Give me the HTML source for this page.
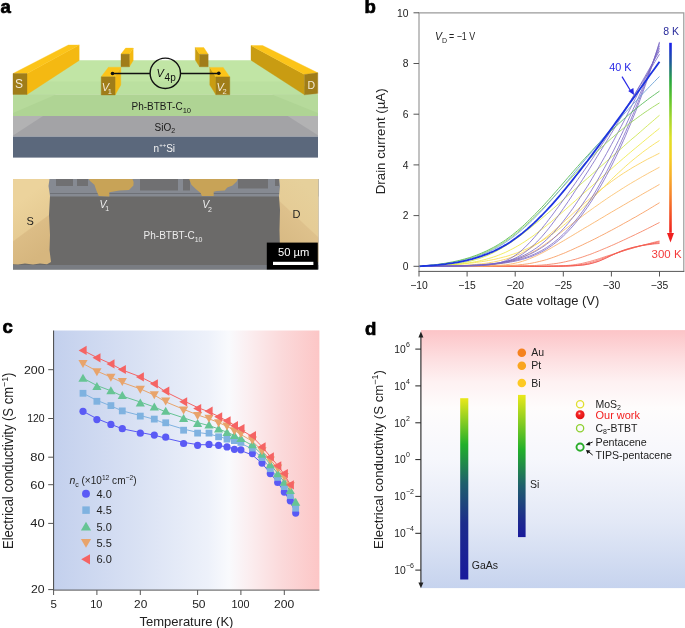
<!DOCTYPE html>
<html><head><meta charset="utf-8"><title>Figure</title><style>
html,body{margin:0;padding:0;background:#fff;width:685px;height:628px;overflow:hidden;}
svg{display:block;font-family:"Liberation Sans",sans-serif;will-change:transform;}
</style></head><body>
<svg width="685" height="628" viewBox="0 0 685 628">
<rect width="685" height="628" fill="#fff"/>
<text x="0.6" y="13.3" font-size="18.6" font-weight="bold" fill="#000" stroke="#000" stroke-width="0.7">a</text>
<polygon points="13.0,94.5 68.3,60.2 262.6,60.2 318.0,94.5" fill="#c1e5a5" />
<polygon points="13.0,94.5 35.6,81.5 295.5,81.5 318.0,94.5" fill="#bbe0a0" />
<rect x="13" y="94.5" width="305" height="21.5" fill="#afd494"/>
<polygon points="13.0,94.5 56.0,94.5 13.0,113.0" fill="#b6da9b" />
<polygon points="272.0,94.5 318.0,94.5 318.0,113.0" fill="#b6da9b" />
<rect x="13" y="116" width="305" height="20.6" fill="#a3a3a6"/>
<polygon points="13.0,116.0 43.0,116.0 13.0,135.4" fill="#b2b2b3" />
<polygon points="287.7,116.0 318.0,116.0 318.0,135.3" fill="#b2b2b3" />
<rect x="13" y="136.6" width="305" height="21" fill="#5b687c"/>
<polygon points="27.0,73.5 79.2,45.0 79.2,60.4 27.0,94.5" fill="#f4b912" stroke="#f4b912" stroke-width="0.35"/>
<polygon points="13.0,73.5 68.3,45.0 79.2,45.0 27.0,73.5" fill="#fcc419" stroke="#fcc419" stroke-width="0.35"/>
<polygon points="13.0,73.5 27.0,73.5 27.0,94.5 13.0,94.5" fill="#a07d19" stroke="#a07d19" stroke-width="0.35"/>
<polygon points="251.0,45.5 304.5,74.5 304.5,94.8 251.0,60.2" fill="#c99c12" stroke="#c99c12" stroke-width="0.35"/>
<polygon points="251.0,45.5 262.6,45.5 317.8,72.8 304.5,74.5" fill="#fcc419" stroke="#fcc419" stroke-width="0.35"/>
<polygon points="304.5,74.5 317.8,72.8 317.8,93.5 304.5,94.8" fill="#a07d19" stroke="#a07d19" stroke-width="0.35"/>
<polygon points="129.4,54.1 133.2,48.1 133.2,60.5 129.4,66.8" fill="#f4b912" stroke="#f4b912" stroke-width="0.35"/>
<polygon points="121.0,54.1 125.6,48.1 133.2,48.1 129.4,54.1" fill="#fcc419" stroke="#fcc419" stroke-width="0.35"/>
<polygon points="121.0,54.1 129.4,54.1 129.4,66.8 121.0,66.8" fill="#a07d19" stroke="#a07d19" stroke-width="0.35"/>
<polygon points="199.6,54.3 195.3,47.6 195.3,60.0 199.6,66.8" fill="#c99c12" stroke="#c99c12" stroke-width="0.35"/>
<polygon points="199.6,54.3 195.3,47.6 203.8,47.6 208.2,54.3" fill="#fcc419" stroke="#fcc419" stroke-width="0.35"/>
<polygon points="199.6,54.3 208.2,54.3 208.2,66.8 199.6,66.8" fill="#a07d19" stroke="#a07d19" stroke-width="0.35"/>
<polygon points="115.1,76.8 120.8,67.2 120.8,85.0 115.1,95.0" fill="#f4b912" stroke="#f4b912" stroke-width="0.35"/>
<polygon points="101.2,76.8 108.4,67.2 120.8,67.2 115.1,76.8" fill="#fcc419" stroke="#fcc419" stroke-width="0.35"/>
<polygon points="101.2,76.8 115.1,76.8 115.1,95.0 101.2,95.0" fill="#a07d19" stroke="#a07d19" stroke-width="0.35"/>
<polygon points="209.8,67.4 215.9,76.9 215.9,94.7 209.8,85.0" fill="#c99c12" stroke="#c99c12" stroke-width="0.35"/>
<polygon points="209.8,67.4 223.2,67.4 229.8,76.9 215.9,76.9" fill="#fcc419" stroke="#fcc419" stroke-width="0.35"/>
<polygon points="215.9,76.9 229.8,76.9 229.8,94.7 215.9,94.7" fill="#a07d19" stroke="#a07d19" stroke-width="0.35"/>
<line x1="112.5" y1="73.5" x2="150" y2="73.5" stroke="#111" stroke-width="1.3"/>
<line x1="180.6" y1="73.5" x2="218.8" y2="73.5" stroke="#111" stroke-width="1.3"/>
<circle cx="165.3" cy="73.3" r="15.2" fill="none" stroke="#111" stroke-width="1.4"/>
<circle cx="112.5" cy="73.5" r="1.8" fill="#111"/>
<circle cx="218.8" cy="73.3" r="1.8" fill="#111"/>
<text x="156.5" y="76.6" font-size="11" font-style="italic" fill="#111">V</text>
<text x="164.6" y="80.8" font-size="10" fill="#111">4p</text>
<text x="15" y="88" font-size="12" fill="#f2ead6">S</text>
<text x="307.5" y="88.5" font-size="10.5" fill="#f2ead6">D</text>
<text x="101.8" y="90.7" font-size="11" font-style="italic" fill="#f2ead6">V</text>
<text x="107.8" y="94" font-size="7.5" fill="#f2ead6">1</text>
<text x="216.6" y="90.7" font-size="11" font-style="italic" fill="#f2ead6">V</text>
<text x="222.6" y="94" font-size="7.5" fill="#f2ead6">2</text>
<text x="131.5" y="110" font-size="10" fill="#1a1a1a">Ph-BTBT-C<tspan font-size="7.6" dy="3.2">10</tspan></text>
<text x="154.5" y="130.5" font-size="10" fill="#1a1a1a">SiO<tspan font-size="7" dy="2.6">2</tspan></text>
<text x="153.6" y="151.8" font-size="10" fill="#f4f4f4">n<tspan font-size="6" dy="-5">++</tspan><tspan dy="5">Si</tspan></text>
<rect x="13" y="179" width="305.4" height="90.5" fill="#6b6a69"/>
<rect x="13" y="179" width="305.4" height="17.5" fill="#868a92"/>
<rect x="56" y="179" width="17" height="7" fill="#707072"/>
<rect x="77" y="179" width="11" height="7" fill="#707072"/>
<rect x="140" y="179" width="38" height="11.5" fill="#707072"/>
<rect x="183" y="179" width="7" height="11.5" fill="#707072"/>
<rect x="238" y="179" width="30" height="9.5" fill="#707072"/>
<rect x="275" y="179" width="4" height="7" fill="#707072"/>
<rect x="50" y="193" width="230" height="1" fill="#5f6066" opacity="0.6"/>
<rect x="13" y="265" width="305.4" height="4.5" fill="#797c82"/>
<defs><linearGradient id="gS" gradientUnits="userSpaceOnUse" x1="13" y1="206" x2="46" y2="251"><stop offset="0" stop-color="#ecd39c"/><stop offset="0.5" stop-color="#e6cb93"/><stop offset="0.52" stop-color="#dcbd86"/><stop offset="1" stop-color="#d6b67e"/></linearGradient><linearGradient id="gD" gradientUnits="userSpaceOnUse" x1="318" y1="197" x2="279" y2="239"><stop offset="0" stop-color="#e6d09b"/><stop offset="0.5" stop-color="#e5cc96"/><stop offset="0.52" stop-color="#dec18c"/><stop offset="1" stop-color="#d8ba84"/></linearGradient></defs>
<polygon points="13.0,179.0 49.5,179.0 48.5,186.0 50.0,196.0 49.0,215.0 50.0,235.0 49.5,250.0 51.0,262.0 47.0,264.3 40.0,263.5 33.0,264.5 25.0,263.5 18.0,264.5 13.0,264.3" fill="url(#gS)" />
<polygon points="279.2,179.0 318.4,179.0 318.4,262.0 282.0,262.0 280.0,250.0 279.5,230.0 280.0,210.0 279.0,196.0 280.0,186.0" fill="url(#gD)" />
<polygon points="88.8,179.0 132.5,179.0 133.6,182.0 133.4,185.6 129.0,190.0 119.4,190.4 109.3,192.2 109.3,196.6 98.8,196.1 96.6,190.9 94.4,184.8 90.0,181.0" fill="#c8a357" />
<polygon points="189.2,179.0 237.8,179.0 236.9,181.3 232.5,185.6 227.3,187.4 224.7,190.4 216.8,190.9 213.7,191.8 213.7,195.9 201.9,195.9 200.6,193.1 195.8,189.1 191.4,184.8" fill="#c8a357" />
<text x="26.6" y="224.5" font-size="11" fill="#1d1d1d">S</text>
<text x="292.5" y="218" font-size="11" fill="#1d1d1d">D</text>
<text x="99.5" y="207.7" font-size="10.5" font-style="italic" fill="#ececec">V</text>
<text x="105.2" y="211" font-size="7" fill="#ececec">1</text>
<text x="202.3" y="208" font-size="10.5" font-style="italic" fill="#ececec">V</text>
<text x="208" y="211.5" font-size="7" fill="#ececec">2</text>
<text x="143.6" y="239" font-size="10" fill="#ececec">Ph-BTBT-C<tspan font-size="7" dy="3">10</tspan></text>
<rect x="266.8" y="242.6" width="51" height="26.9" fill="#000"/>
<rect x="273" y="261.8" width="40.4" height="3.2" fill="#fff"/>
<text x="293.7" y="256.1" font-size="11.2" fill="#fff" text-anchor="middle">50 µm</text>
<text x="364.6" y="13.3" font-size="18.6" font-weight="bold" fill="#000" stroke="#000" stroke-width="0.7">b</text>
<path d="M419.0,266.3 L421.4,266.3 L423.8,266.3 L426.2,266.3 L428.6,266.3 L431.0,266.3 L433.4,266.3 L435.8,266.3 L438.2,266.3 L440.6,266.3 L443.1,266.3 L445.5,266.3 L447.9,266.3 L450.3,266.3 L452.7,266.3 L455.1,266.3 L457.5,266.3 L459.9,266.3 L462.3,266.3 L464.7,266.3 L467.1,266.3 L469.5,266.3 L471.9,266.3 L474.3,266.3 L476.7,266.3 L479.1,266.3 L481.5,266.3 L483.9,266.3 L486.3,266.3 L488.7,266.3 L491.1,266.3 L493.6,266.3 L496.0,266.3 L498.4,266.3 L500.8,266.3 L503.2,266.3 L505.6,266.3 L508.0,266.3 L510.4,266.3 L512.8,266.3 L515.2,266.3 L517.6,266.3 L520.0,266.3 L522.4,266.3 L524.8,266.3 L527.2,266.3 L529.6,266.3 L532.0,266.3 L534.4,266.3 L536.8,266.3 L539.2,266.3 L541.7,266.3 L544.1,266.3 L546.5,266.3 L548.9,266.3 L551.3,266.2 L553.7,266.2 L556.1,266.2 L558.5,266.2 L560.9,266.2 L563.3,266.1 L565.7,266.1 L568.1,266.0 L570.5,265.9 L572.9,265.8 L575.3,265.7 L577.7,265.5 L580.1,265.3 L582.5,265.1 L584.9,264.8 L587.4,264.4 L589.8,263.9 L592.2,263.3 L594.6,262.6 L597.0,261.9 L599.4,261.0 L601.8,260.0 L604.2,258.9 L606.6,257.8 L609.0,256.6 L611.4,255.4 L613.8,254.3 L616.2,253.2 L618.6,252.1 L621.0,251.1 L623.4,250.2 L625.8,249.4 L628.2,248.7 L630.6,248.0 L633.0,247.4 L635.5,246.8 L637.9,246.3 L640.3,245.9 L642.7,245.5 L645.1,245.1 L647.5,244.8 L649.9,244.5 L652.3,244.2 L654.7,243.9 L657.1,243.7 L659.5,243.5" fill="none" stroke="#f04a44" stroke-width="0.7" stroke-linejoin="round"/>
<path d="M419.0,266.3 L421.4,266.3 L423.8,266.3 L426.2,266.3 L428.6,266.3 L431.0,266.3 L433.4,266.3 L435.8,266.3 L438.2,266.3 L440.6,266.3 L443.1,266.3 L445.5,266.3 L447.9,266.3 L450.3,266.3 L452.7,266.3 L455.1,266.3 L457.5,266.3 L459.9,266.3 L462.3,266.3 L464.7,266.3 L467.1,266.3 L469.5,266.3 L471.9,266.3 L474.3,266.3 L476.7,266.3 L479.1,266.3 L481.5,266.3 L483.9,266.3 L486.3,266.3 L488.7,266.3 L491.1,266.3 L493.6,266.3 L496.0,266.3 L498.4,266.3 L500.8,266.3 L503.2,266.3 L505.6,266.3 L508.0,266.3 L510.4,266.3 L512.8,266.3 L515.2,266.3 L517.6,266.3 L520.0,266.3 L522.4,266.3 L524.8,266.3 L527.2,266.3 L529.6,266.3 L532.0,266.3 L534.4,266.3 L536.8,266.3 L539.2,266.3 L541.7,266.3 L544.1,266.3 L546.5,266.3 L548.9,266.3 L551.3,266.2 L553.7,266.2 L556.1,266.2 L558.5,266.2 L560.9,266.1 L563.3,266.1 L565.7,266.0 L568.1,266.0 L570.5,265.9 L572.9,265.8 L575.3,265.6 L577.7,265.5 L580.1,265.2 L582.5,265.0 L584.9,264.6 L587.4,264.2 L589.8,263.7 L592.2,263.1 L594.6,262.4 L597.0,261.6 L599.4,260.8 L601.8,259.8 L604.2,258.8 L606.6,257.7 L609.0,256.6 L611.4,255.5 L613.8,254.4 L616.2,253.4 L618.6,252.4 L621.0,251.4 L623.4,250.5 L625.8,249.7 L628.2,248.9 L630.6,248.2 L633.0,247.5 L635.5,246.9 L637.9,246.4 L640.3,245.8 L642.7,245.3 L645.1,244.9 L647.5,244.5 L649.9,244.1 L652.3,243.7 L654.7,243.4 L657.1,243.0 L659.5,242.7" fill="none" stroke="#f25048" stroke-width="0.7" stroke-linejoin="round"/>
<path d="M419.0,266.3 L421.4,266.3 L423.8,266.3 L426.2,266.3 L428.6,266.3 L431.0,266.3 L433.4,266.3 L435.8,266.3 L438.2,266.3 L440.6,266.3 L443.1,266.3 L445.5,266.3 L447.9,266.3 L450.3,266.3 L452.7,266.3 L455.1,266.3 L457.5,266.3 L459.9,266.3 L462.3,266.3 L464.7,266.3 L467.1,266.3 L469.5,266.3 L471.9,266.3 L474.3,266.3 L476.7,266.3 L479.1,266.3 L481.5,266.3 L483.9,266.3 L486.3,266.3 L488.7,266.3 L491.1,266.3 L493.6,266.3 L496.0,266.3 L498.4,266.3 L500.8,266.3 L503.2,266.3 L505.6,266.3 L508.0,266.3 L510.4,266.3 L512.8,266.3 L515.2,266.3 L517.6,266.3 L520.0,266.3 L522.4,266.3 L524.8,266.3 L527.2,266.3 L529.6,266.3 L532.0,266.3 L534.4,266.3 L536.8,266.3 L539.2,266.3 L541.7,266.3 L544.1,266.3 L546.5,266.2 L548.9,266.2 L551.3,266.2 L553.7,266.2 L556.1,266.1 L558.5,266.1 L560.9,266.0 L563.3,266.0 L565.7,265.9 L568.1,265.8 L570.5,265.6 L572.9,265.5 L575.3,265.2 L577.7,265.0 L580.1,264.7 L582.5,264.3 L584.9,263.8 L587.4,263.3 L589.8,262.7 L592.2,262.0 L594.6,261.3 L597.0,260.5 L599.4,259.6 L601.8,258.8 L604.2,257.8 L606.6,256.9 L609.0,256.0 L611.4,255.1 L613.8,254.2 L616.2,253.3 L618.6,252.5 L621.0,251.6 L623.4,250.8 L625.8,250.0 L628.2,249.3 L630.6,248.6 L633.0,247.9 L635.5,247.2 L637.9,246.6 L640.3,245.9 L642.7,245.3 L645.1,244.8 L647.5,244.2 L649.9,243.7 L652.3,243.2 L654.7,242.7 L657.1,242.2 L659.5,241.7" fill="none" stroke="#f3584c" stroke-width="0.7" stroke-linejoin="round"/>
<path d="M419.0,266.3 L421.4,266.3 L423.8,266.3 L426.2,266.3 L428.6,266.3 L431.0,266.3 L433.4,266.3 L435.8,266.3 L438.2,266.3 L440.6,266.3 L443.1,266.3 L445.5,266.3 L447.9,266.3 L450.3,266.3 L452.7,266.3 L455.1,266.3 L457.5,266.3 L459.9,266.3 L462.3,266.3 L464.7,266.3 L467.1,266.3 L469.5,266.3 L471.9,266.3 L474.3,266.3 L476.7,266.3 L479.1,266.3 L481.5,266.3 L483.9,266.3 L486.3,266.3 L488.7,266.3 L491.1,266.3 L493.6,266.3 L496.0,266.3 L498.4,266.3 L500.8,266.3 L503.2,266.3 L505.6,266.3 L508.0,266.3 L510.4,266.3 L512.8,266.3 L515.2,266.3 L517.6,266.3 L520.0,266.3 L522.4,266.3 L524.8,266.3 L527.2,266.3 L529.6,266.3 L532.0,266.3 L534.4,266.3 L536.8,266.3 L539.2,266.2 L541.7,266.2 L544.1,266.2 L546.5,266.2 L548.9,266.2 L551.3,266.1 L553.7,266.1 L556.1,266.0 L558.5,265.9 L560.9,265.8 L563.3,265.7 L565.7,265.6 L568.1,265.4 L570.5,265.2 L572.9,264.9 L575.3,264.6 L577.7,264.2 L580.1,263.8 L582.5,263.3 L584.9,262.7 L587.4,262.1 L589.8,261.5 L592.2,260.8 L594.6,260.1 L597.0,259.4 L599.4,258.6 L601.8,257.8 L604.2,257.0 L606.6,256.2 L609.0,255.5 L611.4,254.7 L613.8,253.9 L616.2,253.1 L618.6,252.4 L621.0,251.6 L623.4,250.9 L625.8,250.1 L628.2,249.4 L630.6,248.7 L633.0,248.0 L635.5,247.3 L637.9,246.6 L640.3,245.9 L642.7,245.3 L645.1,244.6 L647.5,244.0 L649.9,243.4 L652.3,242.7 L654.7,242.1 L657.1,241.5 L659.5,241.0" fill="none" stroke="#f46250" stroke-width="0.7" stroke-linejoin="round"/>
<path d="M419.0,266.3 L421.4,266.3 L423.8,266.3 L426.2,266.3 L428.6,266.3 L431.0,266.3 L433.4,266.3 L435.8,266.3 L438.2,266.3 L440.6,266.3 L443.1,266.3 L445.5,266.3 L447.9,266.3 L450.3,266.3 L452.7,266.3 L455.1,266.3 L457.5,266.3 L459.9,266.3 L462.3,266.3 L464.7,266.3 L467.1,266.3 L469.5,266.3 L471.9,266.3 L474.3,266.3 L476.7,266.3 L479.1,266.3 L481.5,266.3 L483.9,266.3 L486.3,266.3 L488.7,266.3 L491.1,266.3 L493.6,266.2 L496.0,266.2 L498.4,266.2 L500.8,266.2 L503.2,266.2 L505.6,266.2 L508.0,266.2 L510.4,266.1 L512.8,266.1 L515.2,266.1 L517.6,266.0 L520.0,266.0 L522.4,265.9 L524.8,265.9 L527.2,265.8 L529.6,265.7 L532.0,265.6 L534.4,265.5 L536.8,265.4 L539.2,265.2 L541.7,265.1 L544.1,264.9 L546.5,264.7 L548.9,264.4 L551.3,264.1 L553.7,263.8 L556.1,263.5 L558.5,263.1 L560.9,262.7 L563.3,262.2 L565.7,261.7 L568.1,261.1 L570.5,260.6 L572.9,259.9 L575.3,259.3 L577.7,258.5 L580.1,257.8 L582.5,257.0 L584.9,256.2 L587.4,255.3 L589.8,254.5 L592.2,253.6 L594.6,252.6 L597.0,251.7 L599.4,250.7 L601.8,249.7 L604.2,248.7 L606.6,247.7 L609.0,246.7 L611.4,245.6 L613.8,244.6 L616.2,243.5 L618.6,242.4 L621.0,241.3 L623.4,240.2 L625.8,239.1 L628.2,237.9 L630.6,236.8 L633.0,235.7 L635.5,234.5 L637.9,233.3 L640.3,232.2 L642.7,231.0 L645.1,229.8 L647.5,228.6 L649.9,227.4 L652.3,226.2 L654.7,224.9 L657.1,223.7 L659.5,222.5" fill="none" stroke="#f68060" stroke-width="0.85" stroke-linejoin="round"/>
<path d="M419.0,266.3 L421.4,266.3 L423.8,266.3 L426.2,266.3 L428.6,266.3 L431.0,266.3 L433.4,266.3 L435.8,266.3 L438.2,266.3 L440.6,266.3 L443.1,266.3 L445.5,266.3 L447.9,266.3 L450.3,266.3 L452.7,266.3 L455.1,266.3 L457.5,266.3 L459.9,266.3 L462.3,266.3 L464.7,266.3 L467.1,266.3 L469.5,266.3 L471.9,266.2 L474.3,266.2 L476.7,266.2 L479.1,266.2 L481.5,266.2 L483.9,266.2 L486.3,266.2 L488.7,266.1 L491.1,266.1 L493.6,266.0 L496.0,266.0 L498.4,265.9 L500.8,265.9 L503.2,265.8 L505.6,265.7 L508.0,265.6 L510.4,265.5 L512.8,265.3 L515.2,265.2 L517.6,265.0 L520.0,264.7 L522.4,264.5 L524.8,264.2 L527.2,263.9 L529.6,263.5 L532.0,263.1 L534.4,262.6 L536.8,262.1 L539.2,261.5 L541.7,260.9 L544.1,260.3 L546.5,259.6 L548.9,258.8 L551.3,258.0 L553.7,257.2 L556.1,256.3 L558.5,255.4 L560.9,254.4 L563.3,253.5 L565.7,252.5 L568.1,251.4 L570.5,250.4 L572.9,249.3 L575.3,248.2 L577.7,247.1 L580.1,246.0 L582.5,244.9 L584.9,243.7 L587.4,242.5 L589.8,241.4 L592.2,240.2 L594.6,239.0 L597.0,237.8 L599.4,236.5 L601.8,235.3 L604.2,234.1 L606.6,232.8 L609.0,231.5 L611.4,230.3 L613.8,229.0 L616.2,227.7 L618.6,226.4 L621.0,225.1 L623.4,223.7 L625.8,222.4 L628.2,221.1 L630.6,219.7 L633.0,218.3 L635.5,217.0 L637.9,215.6 L640.3,214.2 L642.7,212.8 L645.1,211.4 L647.5,210.0 L649.9,208.5 L652.3,207.1 L654.7,205.6 L657.1,204.2 L659.5,202.7" fill="none" stroke="#f89a5c" stroke-width="0.85" stroke-linejoin="round"/>
<path d="M419.0,266.3 L421.4,266.3 L423.8,266.3 L426.2,266.3 L428.6,266.3 L431.0,266.3 L433.4,266.3 L435.8,266.3 L438.2,266.3 L440.6,266.3 L443.1,266.3 L445.5,266.3 L447.9,266.3 L450.3,266.3 L452.7,266.3 L455.1,266.3 L457.5,266.3 L459.9,266.3 L462.3,266.3 L464.7,266.2 L467.1,266.2 L469.5,266.2 L471.9,266.2 L474.3,266.2 L476.7,266.2 L479.1,266.1 L481.5,266.1 L483.9,266.0 L486.3,266.0 L488.7,265.9 L491.1,265.8 L493.6,265.7 L496.0,265.6 L498.4,265.4 L500.8,265.2 L503.2,265.0 L505.6,264.8 L508.0,264.5 L510.4,264.1 L512.8,263.7 L515.2,263.2 L517.6,262.6 L520.0,262.0 L522.4,261.3 L524.8,260.5 L527.2,259.7 L529.6,258.7 L532.0,257.7 L534.4,256.7 L536.8,255.6 L539.2,254.4 L541.7,253.2 L544.1,251.9 L546.5,250.6 L548.9,249.3 L551.3,247.9 L553.7,246.5 L556.1,245.1 L558.5,243.7 L560.9,242.3 L563.3,240.9 L565.7,239.5 L568.1,238.0 L570.5,236.6 L572.9,235.2 L575.3,233.7 L577.7,232.3 L580.1,230.8 L582.5,229.4 L584.9,227.9 L587.4,226.5 L589.8,225.1 L592.2,223.6 L594.6,222.2 L597.0,220.8 L599.4,219.3 L601.8,217.9 L604.2,216.5 L606.6,215.0 L609.0,213.6 L611.4,212.2 L613.8,210.8 L616.2,209.4 L618.6,208.0 L621.0,206.6 L623.4,205.2 L625.8,203.8 L628.2,202.4 L630.6,201.0 L633.0,199.6 L635.5,198.2 L637.9,196.8 L640.3,195.4 L642.7,194.0 L645.1,192.6 L647.5,191.3 L649.9,189.9 L652.3,188.5 L654.7,187.2 L657.1,185.8 L659.5,184.4" fill="none" stroke="#fab064" stroke-width="0.85" stroke-linejoin="round"/>
<path d="M419.0,266.3 L421.4,266.3 L423.8,266.3 L426.2,266.3 L428.6,266.3 L431.0,266.3 L433.4,266.3 L435.8,266.3 L438.2,266.3 L440.6,266.2 L443.1,266.2 L445.5,266.2 L447.9,266.2 L450.3,266.2 L452.7,266.2 L455.1,266.1 L457.5,266.1 L459.9,266.1 L462.3,266.0 L464.7,266.0 L467.1,265.9 L469.5,265.9 L471.9,265.8 L474.3,265.7 L476.7,265.6 L479.1,265.5 L481.5,265.4 L483.9,265.3 L486.3,265.1 L488.7,264.9 L491.1,264.7 L493.6,264.4 L496.0,264.2 L498.4,263.8 L500.8,263.5 L503.2,263.0 L505.6,262.6 L508.0,262.0 L510.4,261.4 L512.8,260.8 L515.2,260.0 L517.6,259.2 L520.0,258.3 L522.4,257.3 L524.8,256.2 L527.2,255.1 L529.6,253.8 L532.0,252.5 L534.4,251.1 L536.8,249.7 L539.2,248.2 L541.7,246.6 L544.1,244.9 L546.5,243.2 L548.9,241.5 L551.3,239.7 L553.7,238.0 L556.1,236.1 L558.5,234.3 L560.9,232.5 L563.3,230.6 L565.7,228.8 L568.1,226.9 L570.5,225.1 L572.9,223.2 L575.3,221.4 L577.7,219.6 L580.1,217.8 L582.5,216.0 L584.9,214.2 L587.4,212.4 L589.8,210.6 L592.2,208.9 L594.6,207.2 L597.0,205.5 L599.4,203.8 L601.8,202.1 L604.2,200.5 L606.6,198.8 L609.0,197.2 L611.4,195.6 L613.8,194.1 L616.2,192.5 L618.6,191.0 L621.0,189.4 L623.4,187.9 L625.8,186.4 L628.2,184.9 L630.6,183.5 L633.0,182.0 L635.5,180.6 L637.9,179.2 L640.3,177.8 L642.7,176.4 L645.1,175.1 L647.5,173.7 L649.9,172.4 L652.3,171.1 L654.7,169.8 L657.1,168.5 L659.5,167.2" fill="none" stroke="#fbc06a" stroke-width="0.85" stroke-linejoin="round"/>
<path d="M419.0,266.3 L421.4,266.3 L423.8,266.3 L426.2,266.2 L428.6,266.2 L431.0,266.2 L433.4,266.1 L435.8,266.1 L438.2,266.1 L440.6,266.0 L443.1,266.0 L445.5,265.9 L447.9,265.9 L450.3,265.8 L452.7,265.7 L455.1,265.6 L457.5,265.5 L459.9,265.4 L462.3,265.3 L464.7,265.2 L467.1,265.0 L469.5,264.9 L471.9,264.7 L474.3,264.5 L476.7,264.3 L479.1,264.0 L481.5,263.8 L483.9,263.5 L486.3,263.2 L488.7,262.8 L491.1,262.4 L493.6,262.0 L496.0,261.5 L498.4,261.0 L500.8,260.4 L503.2,259.8 L505.6,259.2 L508.0,258.4 L510.4,257.6 L512.8,256.8 L515.2,255.9 L517.6,254.9 L520.0,253.8 L522.4,252.6 L524.8,251.4 L527.2,250.1 L529.6,248.7 L532.0,247.3 L534.4,245.7 L536.8,244.1 L539.2,242.4 L541.7,240.7 L544.1,238.8 L546.5,236.9 L548.9,235.0 L551.3,233.0 L553.7,230.9 L556.1,228.8 L558.5,226.7 L560.9,224.6 L563.3,222.4 L565.7,220.2 L568.1,218.0 L570.5,215.8 L572.9,213.6 L575.3,211.4 L577.7,209.3 L580.1,207.1 L582.5,205.0 L584.9,202.9 L587.4,200.8 L589.8,198.7 L592.2,196.7 L594.6,194.7 L597.0,192.7 L599.4,190.8 L601.8,188.8 L604.2,187.0 L606.6,185.2 L609.0,183.4 L611.4,181.6 L613.8,179.9 L616.2,178.2 L618.6,176.5 L621.0,174.9 L623.4,173.3 L625.8,171.8 L628.2,170.3 L630.6,168.8 L633.0,167.3 L635.5,165.9 L637.9,164.5 L640.3,163.2 L642.7,161.8 L645.1,160.5 L647.5,159.2 L649.9,158.0 L652.3,156.8 L654.7,155.6 L657.1,154.4 L659.5,153.2" fill="none" stroke="#fbd05c" stroke-width="0.85" stroke-linejoin="round"/>
<path d="M419.0,266.3 L421.4,266.2 L423.8,266.2 L426.2,266.1 L428.6,266.0 L431.0,265.9 L433.4,265.8 L435.8,265.7 L438.2,265.6 L440.6,265.5 L443.1,265.3 L445.5,265.2 L447.9,265.1 L450.3,264.9 L452.7,264.8 L455.1,264.6 L457.5,264.4 L459.9,264.2 L462.3,264.0 L464.7,263.7 L467.1,263.5 L469.5,263.2 L471.9,263.0 L474.3,262.7 L476.7,262.4 L479.1,262.0 L481.5,261.7 L483.9,261.3 L486.3,260.9 L488.7,260.4 L491.1,260.0 L493.6,259.5 L496.0,259.0 L498.4,258.4 L500.8,257.8 L503.2,257.2 L505.6,256.6 L508.0,255.9 L510.4,255.1 L512.8,254.3 L515.2,253.5 L517.6,252.6 L520.0,251.7 L522.4,250.7 L524.8,249.7 L527.2,248.7 L529.6,247.5 L532.0,246.3 L534.4,245.1 L536.8,243.8 L539.2,242.4 L541.7,241.0 L544.1,239.5 L546.5,238.0 L548.9,236.4 L551.3,234.7 L553.7,233.0 L556.1,231.2 L558.5,229.4 L560.9,227.5 L563.3,225.5 L565.7,223.5 L568.1,221.4 L570.5,219.3 L572.9,217.1 L575.3,214.9 L577.7,212.7 L580.1,210.4 L582.5,208.1 L584.9,205.8 L587.4,203.4 L589.8,201.0 L592.2,198.6 L594.6,196.2 L597.0,193.8 L599.4,191.4 L601.8,189.0 L604.2,186.6 L606.6,184.3 L609.0,181.9 L611.4,179.5 L613.8,177.2 L616.2,174.9 L618.6,172.7 L621.0,170.5 L623.4,168.3 L625.8,166.1 L628.2,164.0 L630.6,161.9 L633.0,159.9 L635.5,157.9 L637.9,156.0 L640.3,154.1 L642.7,152.2 L645.1,150.4 L647.5,148.7 L649.9,146.9 L652.3,145.3 L654.7,143.6 L657.1,142.1 L659.5,140.5" fill="none" stroke="#f8e050" stroke-width="0.85" stroke-linejoin="round"/>
<path d="M419.0,266.3 L421.4,266.2 L423.8,266.2 L426.2,266.1 L428.6,266.0 L431.0,266.0 L433.4,265.9 L435.8,265.8 L438.2,265.7 L440.6,265.5 L443.1,265.4 L445.5,265.3 L447.9,265.1 L450.3,264.9 L452.7,264.7 L455.1,264.5 L457.5,264.3 L459.9,264.0 L462.3,263.7 L464.7,263.4 L467.1,263.1 L469.5,262.7 L471.9,262.4 L474.3,261.9 L476.7,261.5 L479.1,261.0 L481.5,260.4 L483.9,259.8 L486.3,259.2 L488.7,258.5 L491.1,257.8 L493.6,257.0 L496.0,256.2 L498.4,255.3 L500.8,254.3 L503.2,253.3 L505.6,252.3 L508.0,251.1 L510.4,249.9 L512.8,248.7 L515.2,247.4 L517.6,246.0 L520.0,244.6 L522.4,243.1 L524.8,241.6 L527.2,240.0 L529.6,238.3 L532.0,236.7 L534.4,234.9 L536.8,233.1 L539.2,231.3 L541.7,229.4 L544.1,227.5 L546.5,225.6 L548.9,223.6 L551.3,221.7 L553.7,219.6 L556.1,217.6 L558.5,215.5 L560.9,213.5 L563.3,211.4 L565.7,209.3 L568.1,207.2 L570.5,205.0 L572.9,202.9 L575.3,200.8 L577.7,198.6 L580.1,196.5 L582.5,194.3 L584.9,192.2 L587.4,190.0 L589.8,187.9 L592.2,185.8 L594.6,183.6 L597.0,181.5 L599.4,179.3 L601.8,177.2 L604.2,175.1 L606.6,173.0 L609.0,170.9 L611.4,168.8 L613.8,166.7 L616.2,164.6 L618.6,162.5 L621.0,160.4 L623.4,158.3 L625.8,156.3 L628.2,154.2 L630.6,152.2 L633.0,150.1 L635.5,148.1 L637.9,146.1 L640.3,144.1 L642.7,142.1 L645.1,140.1 L647.5,138.1 L649.9,136.1 L652.3,134.2 L654.7,132.2 L657.1,130.3 L659.5,128.3" fill="none" stroke="#eeea48" stroke-width="0.85" stroke-linejoin="round"/>
<path d="M419.0,266.3 L421.4,266.2 L423.8,266.2 L426.2,266.1 L428.6,266.0 L431.0,265.9 L433.4,265.8 L435.8,265.7 L438.2,265.5 L440.6,265.3 L443.1,265.2 L445.5,265.0 L447.9,264.7 L450.3,264.5 L452.7,264.2 L455.1,263.9 L457.5,263.6 L459.9,263.2 L462.3,262.8 L464.7,262.3 L467.1,261.8 L469.5,261.3 L471.9,260.7 L474.3,260.0 L476.7,259.3 L479.1,258.6 L481.5,257.7 L483.9,256.8 L486.3,255.9 L488.7,254.9 L491.1,253.8 L493.6,252.6 L496.0,251.4 L498.4,250.1 L500.8,248.7 L503.2,247.3 L505.6,245.8 L508.0,244.3 L510.4,242.7 L512.8,241.1 L515.2,239.4 L517.6,237.6 L520.0,235.9 L522.4,234.0 L524.8,232.2 L527.2,230.3 L529.6,228.4 L532.0,226.4 L534.4,224.5 L536.8,222.5 L539.2,220.5 L541.7,218.4 L544.1,216.4 L546.5,214.3 L548.9,212.3 L551.3,210.2 L553.7,208.1 L556.1,206.0 L558.5,203.9 L560.9,201.8 L563.3,199.7 L565.7,197.5 L568.1,195.4 L570.5,193.3 L572.9,191.2 L575.3,189.0 L577.7,186.9 L580.1,184.8 L582.5,182.6 L584.9,180.5 L587.4,178.4 L589.8,176.2 L592.2,174.1 L594.6,172.0 L597.0,169.8 L599.4,167.7 L601.8,165.6 L604.2,163.5 L606.6,161.3 L609.0,159.2 L611.4,157.1 L613.8,155.0 L616.2,152.9 L618.6,150.8 L621.0,148.7 L623.4,146.6 L625.8,144.4 L628.2,142.3 L630.6,140.2 L633.0,138.1 L635.5,136.1 L637.9,134.0 L640.3,131.9 L642.7,129.8 L645.1,127.7 L647.5,125.6 L649.9,123.5 L652.3,121.5 L654.7,119.4 L657.1,117.3 L659.5,115.3" fill="none" stroke="#cce64c" stroke-width="0.85" stroke-linejoin="round"/>
<path d="M419.0,266.3 L421.4,266.3 L423.8,266.3 L426.2,266.3 L428.6,266.3 L431.0,266.2 L433.4,266.2 L435.8,266.2 L438.2,266.2 L440.6,266.2 L443.1,266.1 L445.5,266.1 L447.9,266.1 L450.3,266.1 L452.7,266.0 L455.1,266.0 L457.5,265.9 L459.9,265.9 L462.3,265.8 L464.7,265.8 L467.1,265.7 L469.5,265.6 L471.9,265.5 L474.3,265.5 L476.7,265.4 L479.1,265.2 L481.5,265.1 L483.9,265.0 L486.3,264.8 L488.7,264.7 L491.1,264.5 L493.6,264.3 L496.0,264.0 L498.4,263.8 L500.8,263.5 L503.2,263.2 L505.6,262.9 L508.0,262.5 L510.4,262.1 L512.8,261.6 L515.2,261.2 L517.6,260.6 L520.0,260.0 L522.4,259.4 L524.8,258.7 L527.2,257.9 L529.6,257.1 L532.0,256.2 L534.4,255.2 L536.8,254.2 L539.2,253.0 L541.7,251.8 L544.1,250.5 L546.5,249.1 L548.9,247.5 L551.3,245.9 L553.7,244.2 L556.1,242.3 L558.5,240.4 L560.9,238.3 L563.3,236.1 L565.7,233.8 L568.1,231.3 L570.5,228.7 L572.9,226.1 L575.3,223.2 L577.7,220.3 L580.1,217.2 L582.5,214.1 L584.9,210.7 L587.4,207.3 L589.8,203.7 L592.2,200.1 L594.6,196.2 L597.0,192.3 L599.4,188.2 L601.8,184.1 L604.2,179.8 L606.6,175.3 L609.0,170.8 L611.4,166.1 L613.8,161.2 L616.2,156.3 L618.6,151.2 L621.0,146.0 L623.4,140.7 L625.8,135.2 L628.2,129.5 L630.6,123.8 L633.0,117.8 L635.5,111.8 L637.9,105.6 L640.3,99.2 L642.7,92.6 L645.1,85.9 L647.5,79.1 L649.9,72.0 L652.3,64.8 L654.7,57.4 L657.1,49.7 L659.5,41.9" fill="none" stroke="#7866c4" stroke-width="0.8" stroke-linejoin="round"/>
<path d="M419.0,266.3 L421.4,266.3 L423.8,266.3 L426.2,266.3 L428.6,266.2 L431.0,266.2 L433.4,266.2 L435.8,266.2 L438.2,266.1 L440.6,266.1 L443.1,266.1 L445.5,266.1 L447.9,266.0 L450.3,266.0 L452.7,265.9 L455.1,265.9 L457.5,265.8 L459.9,265.8 L462.3,265.7 L464.7,265.6 L467.1,265.5 L469.5,265.4 L471.9,265.3 L474.3,265.2 L476.7,265.1 L479.1,265.0 L481.5,264.8 L483.9,264.7 L486.3,264.5 L488.7,264.3 L491.1,264.1 L493.6,263.8 L496.0,263.6 L498.4,263.3 L500.8,263.0 L503.2,262.6 L505.6,262.3 L508.0,261.9 L510.4,261.4 L512.8,260.9 L515.2,260.4 L517.6,259.8 L520.0,259.2 L522.4,258.5 L524.8,257.7 L527.2,256.9 L529.6,256.1 L532.0,255.1 L534.4,254.1 L536.8,253.0 L539.2,251.8 L541.7,250.5 L544.1,249.1 L546.5,247.6 L548.9,246.0 L551.3,244.3 L553.7,242.5 L556.1,240.6 L558.5,238.6 L560.9,236.4 L563.3,234.2 L565.7,231.8 L568.1,229.2 L570.5,226.6 L572.9,223.8 L575.3,220.9 L577.7,217.9 L580.1,214.7 L582.5,211.4 L584.9,208.0 L587.4,204.4 L589.8,200.8 L592.2,197.0 L594.6,193.0 L597.0,189.0 L599.4,184.8 L601.8,180.5 L604.2,176.1 L606.6,171.6 L609.0,167.0 L611.4,162.2 L613.8,157.3 L616.2,152.4 L618.6,147.3 L621.0,142.1 L623.4,136.7 L625.8,131.3 L628.2,125.8 L630.6,120.1 L633.0,114.3 L635.5,108.5 L637.9,102.5 L640.3,96.4 L642.7,90.1 L645.1,83.8 L647.5,77.3 L649.9,70.7 L652.3,64.0 L654.7,57.2 L657.1,50.3 L659.5,43.2" fill="none" stroke="#7866c4" stroke-width="0.8" stroke-linejoin="round"/>
<path d="M419.0,266.3 L421.4,266.3 L423.8,266.3 L426.2,266.3 L428.6,266.2 L431.0,266.2 L433.4,266.2 L435.8,266.2 L438.2,266.1 L440.6,266.1 L443.1,266.1 L445.5,266.0 L447.9,266.0 L450.3,266.0 L452.7,265.9 L455.1,265.9 L457.5,265.8 L459.9,265.7 L462.3,265.7 L464.7,265.6 L467.1,265.5 L469.5,265.4 L471.9,265.3 L474.3,265.1 L476.7,265.0 L479.1,264.9 L481.5,264.7 L483.9,264.5 L486.3,264.3 L488.7,264.1 L491.1,263.8 L493.6,263.6 L496.0,263.2 L498.4,262.9 L500.8,262.5 L503.2,262.1 L505.6,261.7 L508.0,261.2 L510.4,260.7 L512.8,260.1 L515.2,259.5 L517.6,258.8 L520.0,258.0 L522.4,257.2 L524.8,256.3 L527.2,255.3 L529.6,254.3 L532.0,253.1 L534.4,251.9 L536.8,250.6 L539.2,249.1 L541.7,247.6 L544.1,246.0 L546.5,244.2 L548.9,242.4 L551.3,240.4 L553.7,238.3 L556.1,236.1 L558.5,233.8 L560.9,231.4 L563.3,228.8 L565.7,226.2 L568.1,223.4 L570.5,220.4 L572.9,217.4 L575.3,214.3 L577.7,211.0 L580.1,207.6 L582.5,204.2 L584.9,200.6 L587.4,196.9 L589.8,193.1 L592.2,189.2 L594.6,185.2 L597.0,181.1 L599.4,176.9 L601.8,172.7 L604.2,168.3 L606.6,163.9 L609.0,159.4 L611.4,154.7 L613.8,150.1 L616.2,145.3 L618.6,140.4 L621.0,135.5 L623.4,130.5 L625.8,125.4 L628.2,120.2 L630.6,114.9 L633.0,109.6 L635.5,104.2 L637.9,98.7 L640.3,93.1 L642.7,87.5 L645.1,81.8 L647.5,76.0 L649.9,70.1 L652.3,64.1 L654.7,58.1 L657.1,51.9 L659.5,45.7" fill="none" stroke="#7866c4" stroke-width="0.8" stroke-linejoin="round"/>
<path d="M419.0,266.3 L421.4,266.3 L423.8,266.3 L426.2,266.3 L428.6,266.3 L431.0,266.2 L433.4,266.2 L435.8,266.2 L438.2,266.2 L440.6,266.2 L443.1,266.1 L445.5,266.1 L447.9,266.1 L450.3,266.0 L452.7,266.0 L455.1,266.0 L457.5,265.9 L459.9,265.8 L462.3,265.8 L464.7,265.7 L467.1,265.6 L469.5,265.5 L471.9,265.4 L474.3,265.3 L476.7,265.2 L479.1,265.0 L481.5,264.9 L483.9,264.7 L486.3,264.4 L488.7,264.2 L491.1,263.9 L493.6,263.6 L496.0,263.3 L498.4,262.9 L500.8,262.5 L503.2,262.0 L505.6,261.5 L508.0,261.0 L510.4,260.3 L512.8,259.6 L515.2,258.8 L517.6,258.0 L520.0,257.0 L522.4,256.0 L524.8,254.9 L527.2,253.7 L529.6,252.3 L532.0,250.9 L534.4,249.3 L536.8,247.7 L539.2,245.9 L541.7,243.9 L544.1,241.9 L546.5,239.7 L548.9,237.4 L551.3,235.0 L553.7,232.5 L556.1,229.8 L558.5,227.1 L560.9,224.2 L563.3,221.2 L565.7,218.1 L568.1,214.9 L570.5,211.6 L572.9,208.3 L575.3,204.8 L577.7,201.2 L580.1,197.6 L582.5,193.9 L584.9,190.1 L587.4,186.3 L589.8,182.4 L592.2,178.4 L594.6,174.3 L597.0,170.3 L599.4,166.1 L601.8,161.9 L604.2,157.7 L606.6,153.4 L609.0,149.0 L611.4,144.6 L613.8,140.2 L616.2,135.7 L618.6,131.2 L621.0,126.7 L623.4,122.1 L625.8,117.4 L628.2,112.7 L630.6,108.0 L633.0,103.2 L635.5,98.4 L637.9,93.6 L640.3,88.7 L642.7,83.8 L645.1,78.8 L647.5,73.8 L649.9,68.8 L652.3,63.7 L654.7,58.6 L657.1,53.5 L659.5,48.3" fill="none" stroke="#7866c4" stroke-width="0.8" stroke-linejoin="round"/>
<path d="M419.0,266.3 L421.4,266.3 L423.8,266.3 L426.2,266.3 L428.6,266.3 L431.0,266.3 L433.4,266.3 L435.8,266.3 L438.2,266.3 L440.6,266.3 L443.1,266.2 L445.5,266.2 L447.9,266.2 L450.3,266.2 L452.7,266.2 L455.1,266.2 L457.5,266.1 L459.9,266.1 L462.3,266.1 L464.7,266.0 L467.1,266.0 L469.5,265.9 L471.9,265.8 L474.3,265.7 L476.7,265.6 L479.1,265.5 L481.5,265.4 L483.9,265.2 L486.3,265.0 L488.7,264.8 L491.1,264.5 L493.6,264.2 L496.0,263.8 L498.4,263.4 L500.8,262.9 L503.2,262.4 L505.6,261.7 L508.0,261.0 L510.4,260.1 L512.8,259.2 L515.2,258.1 L517.6,256.9 L520.0,255.6 L522.4,254.1 L524.8,252.4 L527.2,250.6 L529.6,248.7 L532.0,246.6 L534.4,244.4 L536.8,242.0 L539.2,239.5 L541.7,236.8 L544.1,234.0 L546.5,231.2 L548.9,228.2 L551.3,225.1 L553.7,221.9 L556.1,218.7 L558.5,215.4 L560.9,212.0 L563.3,208.6 L565.7,205.1 L568.1,201.6 L570.5,198.0 L572.9,194.4 L575.3,190.7 L577.7,187.1 L580.1,183.4 L582.5,179.6 L584.9,175.9 L587.4,172.1 L589.8,168.3 L592.2,164.5 L594.6,160.7 L597.0,156.8 L599.4,152.9 L601.8,149.0 L604.2,145.1 L606.6,141.2 L609.0,137.3 L611.4,133.3 L613.8,129.3 L616.2,125.3 L618.6,121.3 L621.0,117.3 L623.4,113.3 L625.8,109.2 L628.2,105.1 L630.6,101.0 L633.0,96.9 L635.5,92.8 L637.9,88.7 L640.3,84.6 L642.7,80.4 L645.1,76.2 L647.5,72.0 L649.9,67.8 L652.3,63.6 L654.7,59.3 L657.1,55.1 L659.5,50.8" fill="none" stroke="#7866c4" stroke-width="0.8" stroke-linejoin="round"/>
<path d="M419.0,266.3 L421.4,266.3 L423.8,266.3 L426.2,266.3 L428.6,266.3 L431.0,266.3 L433.4,266.3 L435.8,266.3 L438.2,266.3 L440.6,266.3 L443.1,266.3 L445.5,266.3 L447.9,266.3 L450.3,266.3 L452.7,266.2 L455.1,266.2 L457.5,266.2 L459.9,266.2 L462.3,266.2 L464.7,266.1 L467.1,266.1 L469.5,266.0 L471.9,266.0 L474.3,265.9 L476.7,265.8 L479.1,265.7 L481.5,265.5 L483.9,265.3 L486.3,265.1 L488.7,264.8 L491.1,264.5 L493.6,264.1 L496.0,263.6 L498.4,263.1 L500.8,262.4 L503.2,261.6 L505.6,260.7 L508.0,259.6 L510.4,258.4 L512.8,257.0 L515.2,255.4 L517.6,253.7 L520.0,251.8 L522.4,249.7 L524.8,247.5 L527.2,245.1 L529.6,242.6 L532.0,240.0 L534.4,237.3 L536.8,234.5 L539.2,231.6 L541.7,228.6 L544.1,225.6 L546.5,222.6 L548.9,219.4 L551.3,216.3 L553.7,213.1 L556.1,209.8 L558.5,206.6 L560.9,203.3 L563.3,200.0 L565.7,196.7 L568.1,193.3 L570.5,190.0 L572.9,186.6 L575.3,183.2 L577.7,179.7 L580.1,176.3 L582.5,172.9 L584.9,169.4 L587.4,165.9 L589.8,162.4 L592.2,158.9 L594.6,155.4 L597.0,151.8 L599.4,148.3 L601.8,144.7 L604.2,141.1 L606.6,137.5 L609.0,133.9 L611.4,130.2 L613.8,126.6 L616.2,122.9 L618.6,119.2 L621.0,115.6 L623.4,111.8 L625.8,108.1 L628.2,104.4 L630.6,100.6 L633.0,96.8 L635.5,93.0 L637.9,89.2 L640.3,85.4 L642.7,81.6 L645.1,77.7 L647.5,73.9 L649.9,70.0 L652.3,66.1 L654.7,62.1 L657.1,58.2 L659.5,54.2" fill="none" stroke="#7866c4" stroke-width="0.8" stroke-linejoin="round"/>
<path d="M419.0,266.3 L421.4,266.1 L423.8,265.9 L426.2,265.7 L428.6,265.5 L431.0,265.3 L433.4,265.0 L435.8,264.8 L438.2,264.5 L440.6,264.2 L443.1,263.9 L445.5,263.5 L447.9,263.1 L450.3,262.7 L452.7,262.3 L455.1,261.8 L457.5,261.3 L459.9,260.8 L462.3,260.2 L464.7,259.6 L467.1,258.9 L469.5,258.2 L471.9,257.5 L474.3,256.7 L476.7,255.8 L479.1,254.9 L481.5,254.0 L483.9,253.0 L486.3,251.9 L488.7,250.8 L491.1,249.6 L493.6,248.3 L496.0,247.0 L498.4,245.6 L500.8,244.2 L503.2,242.7 L505.6,241.1 L508.0,239.4 L510.4,237.7 L512.8,235.9 L515.2,234.0 L517.6,232.1 L520.0,230.1 L522.4,228.0 L524.8,225.9 L527.2,223.7 L529.6,221.5 L532.0,219.2 L534.4,216.9 L536.8,214.5 L539.2,212.1 L541.7,209.6 L544.1,207.1 L546.5,204.6 L548.9,202.1 L551.3,199.5 L553.7,196.9 L556.1,194.3 L558.5,191.7 L560.9,189.1 L563.3,186.5 L565.7,183.9 L568.1,181.3 L570.5,178.7 L572.9,176.1 L575.3,173.6 L577.7,171.0 L580.1,168.5 L582.5,166.0 L584.9,163.5 L587.4,161.1 L589.8,158.7 L592.2,156.3 L594.6,153.9 L597.0,151.6 L599.4,149.3 L601.8,147.1 L604.2,144.9 L606.6,142.7 L609.0,140.5 L611.4,138.4 L613.8,136.3 L616.2,134.3 L618.6,132.2 L621.0,130.3 L623.4,128.3 L625.8,126.4 L628.2,124.5 L630.6,122.7 L633.0,120.9 L635.5,119.1 L637.9,117.3 L640.3,115.6 L642.7,113.9 L645.1,112.2 L647.5,110.6 L649.9,109.0 L652.3,107.4 L654.7,105.9 L657.1,104.4 L659.5,102.9" fill="none" stroke="#9ed85a" stroke-width="0.9" stroke-linejoin="round"/>
<path d="M419.0,266.3 L421.4,266.1 L423.8,265.9 L426.2,265.7 L428.6,265.4 L431.0,265.2 L433.4,264.9 L435.8,264.6 L438.2,264.3 L440.6,264.0 L443.1,263.6 L445.5,263.2 L447.9,262.8 L450.3,262.3 L452.7,261.9 L455.1,261.4 L457.5,260.8 L459.9,260.3 L462.3,259.6 L464.7,259.0 L467.1,258.3 L469.5,257.6 L471.9,256.8 L474.3,255.9 L476.7,255.1 L479.1,254.1 L481.5,253.1 L483.9,252.1 L486.3,251.0 L488.7,249.8 L491.1,248.6 L493.6,247.3 L496.0,246.0 L498.4,244.5 L500.8,243.0 L503.2,241.5 L505.6,239.9 L508.0,238.1 L510.4,236.4 L512.8,234.5 L515.2,232.6 L517.6,230.6 L520.0,228.6 L522.4,226.5 L524.8,224.3 L527.2,222.0 L529.6,219.7 L532.0,217.4 L534.4,214.9 L536.8,212.5 L539.2,209.9 L541.7,207.4 L544.1,204.8 L546.5,202.1 L548.9,199.5 L551.3,196.8 L553.7,194.0 L556.1,191.3 L558.5,188.5 L560.9,185.8 L563.3,183.0 L565.7,180.2 L568.1,177.4 L570.5,174.6 L572.9,171.9 L575.3,169.1 L577.7,166.4 L580.1,163.7 L582.5,160.9 L584.9,158.3 L587.4,155.6 L589.8,153.0 L592.2,150.4 L594.6,147.8 L597.0,145.2 L599.4,142.7 L601.8,140.2 L604.2,137.8 L606.6,135.4 L609.0,133.0 L611.4,130.6 L613.8,128.3 L616.2,126.1 L618.6,123.8 L621.0,121.6 L623.4,119.4 L625.8,117.3 L628.2,115.2 L630.6,113.2 L633.0,111.1 L635.5,109.2 L637.9,107.2 L640.3,105.3 L642.7,103.4 L645.1,101.6 L647.5,99.7 L649.9,97.9 L652.3,96.2 L654.7,94.5 L657.1,92.8 L659.5,91.1" fill="none" stroke="#5cbc5c" stroke-width="0.9" stroke-linejoin="round"/>
<path d="M419.0,266.3 L421.4,266.1 L423.8,266.0 L426.2,265.8 L428.6,265.6 L431.0,265.4 L433.4,265.2 L435.8,264.9 L438.2,264.7 L440.6,264.4 L443.1,264.1 L445.5,263.8 L447.9,263.4 L450.3,263.0 L452.7,262.6 L455.1,262.2 L457.5,261.7 L459.9,261.2 L462.3,260.7 L464.7,260.1 L467.1,259.5 L469.5,258.8 L471.9,258.1 L474.3,257.4 L476.7,256.6 L479.1,255.7 L481.5,254.8 L483.9,253.8 L486.3,252.8 L488.7,251.7 L491.1,250.6 L493.6,249.4 L496.0,248.1 L498.4,246.7 L500.8,245.3 L503.2,243.8 L505.6,242.3 L508.0,240.6 L510.4,238.9 L512.8,237.2 L515.2,235.3 L517.6,233.4 L520.0,231.4 L522.4,229.3 L524.8,227.2 L527.2,225.0 L529.6,222.8 L532.0,220.5 L534.4,218.1 L536.8,215.6 L539.2,213.2 L541.7,210.6 L544.1,208.0 L546.5,205.4 L548.9,202.7 L551.3,200.0 L553.7,197.3 L556.1,194.5 L558.5,191.7 L560.9,188.9 L563.3,186.0 L565.7,183.2 L568.1,180.3 L570.5,177.4 L572.9,174.5 L575.3,171.6 L577.7,168.7 L580.1,165.8 L582.5,162.8 L584.9,159.9 L587.4,157.0 L589.8,154.1 L592.2,151.2 L594.6,148.3 L597.0,145.4 L599.4,142.6 L601.8,139.7 L604.2,136.9 L606.6,134.1 L609.0,131.2 L611.4,128.4 L613.8,125.7 L616.2,122.9 L618.6,120.2 L621.0,117.4 L623.4,114.7 L625.8,112.0 L628.2,109.4 L630.6,106.7 L633.0,104.1 L635.5,101.5 L637.9,98.9 L640.3,96.3 L642.7,93.8 L645.1,91.3 L647.5,88.8 L649.9,86.3 L652.3,83.8 L654.7,81.4 L657.1,78.9 L659.5,76.5" fill="none" stroke="#6ea4d6" stroke-width="0.9" stroke-linejoin="round"/>
<path d="M419.0,266.3 L421.4,266.2 L423.8,266.0 L426.2,265.9 L428.6,265.7 L431.0,265.5 L433.4,265.3 L435.8,265.1 L438.2,264.9 L440.6,264.6 L443.1,264.3 L445.5,264.1 L447.9,263.7 L450.3,263.4 L452.7,263.1 L455.1,262.7 L457.5,262.3 L459.9,261.8 L462.3,261.3 L464.7,260.8 L467.1,260.3 L469.5,259.7 L471.9,259.1 L474.3,258.4 L476.7,257.7 L479.1,256.9 L481.5,256.1 L483.9,255.2 L486.3,254.3 L488.7,253.4 L491.1,252.3 L493.6,251.3 L496.0,250.1 L498.4,248.9 L500.8,247.6 L503.2,246.3 L505.6,244.9 L508.0,243.4 L510.4,241.9 L512.8,240.2 L515.2,238.6 L517.6,236.8 L520.0,235.0 L522.4,233.1 L524.8,231.1 L527.2,229.1 L529.6,227.0 L532.0,224.8 L534.4,222.6 L536.8,220.3 L539.2,217.9 L541.7,215.5 L544.1,213.0 L546.5,210.5 L548.9,207.9 L551.3,205.3 L553.7,202.6 L556.1,199.9 L558.5,197.1 L560.9,194.2 L563.3,191.4 L565.7,188.5 L568.1,185.5 L570.5,182.6 L572.9,179.6 L575.3,176.5 L577.7,173.5 L580.1,170.4 L582.5,167.3 L584.9,164.1 L587.4,161.0 L589.8,157.8 L592.2,154.6 L594.6,151.4 L597.0,148.1 L599.4,144.9 L601.8,141.7 L604.2,138.4 L606.6,135.1 L609.0,131.8 L611.4,128.5 L613.8,125.2 L616.2,121.9 L618.6,118.6 L621.0,115.3 L623.4,111.9 L625.8,108.6 L628.2,105.3 L630.6,101.9 L633.0,98.6 L635.5,95.2 L637.9,91.9 L640.3,88.5 L642.7,85.2 L645.1,81.8 L647.5,78.5 L649.9,75.1 L652.3,71.8 L654.7,68.4 L657.1,65.1 L659.5,61.7" fill="none" stroke="#1e34e0" stroke-width="1.8" stroke-linejoin="round"/>
<path d="M419,271.4 V12.8 H683.8 V271.4" fill="none" stroke="#9a9a9a" stroke-width="1.2"/>
<line x1="418.5" y1="271.4" x2="684.3" y2="271.4" stroke="#555" stroke-width="1"/>
<line x1="419.0" y1="271.4" x2="419.0" y2="276.5" stroke="#555" stroke-width="1"/>
<text x="419.0" y="289.4" font-size="10.3" text-anchor="middle" fill="#222">−10</text>
<line x1="467.1" y1="271.4" x2="467.1" y2="276.5" stroke="#555" stroke-width="1"/>
<text x="467.1" y="289.4" font-size="10.3" text-anchor="middle" fill="#222">−15</text>
<line x1="515.2" y1="271.4" x2="515.2" y2="276.5" stroke="#555" stroke-width="1"/>
<text x="515.2" y="289.4" font-size="10.3" text-anchor="middle" fill="#222">−20</text>
<line x1="563.3" y1="271.4" x2="563.3" y2="276.5" stroke="#555" stroke-width="1"/>
<text x="563.3" y="289.4" font-size="10.3" text-anchor="middle" fill="#222">−25</text>
<line x1="611.4" y1="271.4" x2="611.4" y2="276.5" stroke="#555" stroke-width="1"/>
<text x="611.4" y="289.4" font-size="10.3" text-anchor="middle" fill="#222">−30</text>
<line x1="659.5" y1="271.4" x2="659.5" y2="276.5" stroke="#555" stroke-width="1"/>
<text x="659.5" y="289.4" font-size="10.3" text-anchor="middle" fill="#222">−35</text>
<line x1="413.5" y1="266.3" x2="419" y2="266.3" stroke="#555" stroke-width="1"/>
<text x="408.5" y="270.0" font-size="10.3" text-anchor="end" fill="#222">0</text>
<line x1="413.5" y1="215.6" x2="419" y2="215.6" stroke="#555" stroke-width="1"/>
<text x="408.5" y="219.3" font-size="10.3" text-anchor="end" fill="#222">2</text>
<line x1="413.5" y1="164.9" x2="419" y2="164.9" stroke="#555" stroke-width="1"/>
<text x="408.5" y="168.6" font-size="10.3" text-anchor="end" fill="#222">4</text>
<line x1="413.5" y1="114.2" x2="419" y2="114.2" stroke="#555" stroke-width="1"/>
<text x="408.5" y="117.9" font-size="10.3" text-anchor="end" fill="#222">6</text>
<line x1="413.5" y1="63.5" x2="419" y2="63.5" stroke="#555" stroke-width="1"/>
<text x="408.5" y="67.2" font-size="10.3" text-anchor="end" fill="#222">8</text>
<line x1="413.5" y1="12.8" x2="419" y2="12.8" stroke="#555" stroke-width="1"/>
<text x="408.5" y="16.5" font-size="10.3" text-anchor="end" fill="#222">10</text>
<text x="552" y="305" font-size="13" text-anchor="middle" fill="#222">Gate voltage (V)</text>
<text transform="translate(385.2,141.3) rotate(-90)" font-size="13.3" text-anchor="middle" fill="#222">Drain current (µA)</text>
<text x="435" y="39.9" font-size="10.5" fill="#222"><tspan font-style="italic">V</tspan><tspan font-size="7" dy="3">D</tspan></text><text x="449" y="39.9" font-size="10.5" fill="#222" textLength="26.2" lengthAdjust="spacingAndGlyphs">= −1 V</text>
<defs><linearGradient id="cb" x1="0" y1="0" x2="0" y2="1">
<stop offset="0.00" stop-color="#1a1eee"/>
<stop offset="0.10" stop-color="#1e589c"/>
<stop offset="0.20" stop-color="#29a73f"/>
<stop offset="0.30" stop-color="#62c62d"/>
<stop offset="0.40" stop-color="#a6d72f"/>
<stop offset="0.50" stop-color="#dee028"/>
<stop offset="0.60" stop-color="#f6d024"/>
<stop offset="0.70" stop-color="#f7b02c"/>
<stop offset="0.80" stop-color="#f6862d"/>
<stop offset="0.90" stop-color="#f35326"/>
<stop offset="1.00" stop-color="#f02020"/>
</linearGradient></defs>
<rect x="669.2" y="42.8" width="2.6" height="190" fill="url(#cb)"/>
<polygon points="667.0,233.0 674.0,233.0 670.5,242.4" fill="#f02020" />
<text x="663.3" y="35.2" font-size="10.5" fill="#2a2c9c">8 K</text>
<text x="609.3" y="70.8" font-size="10.5" fill="#2828e6" textLength="22.2" lengthAdjust="spacingAndGlyphs">40 K</text>
<text x="651.6" y="257.9" font-size="10.5" fill="#f43c3c" textLength="30" lengthAdjust="spacingAndGlyphs">300 K</text>
<line x1="622" y1="76.6" x2="631" y2="91.5" stroke="#2828e6" stroke-width="1.2"/>
<polygon points="628.2,91.0 634.0,95.0 633.4,87.9" fill="#2828e6" />
<text x="2.6" y="333.1" font-size="18.6" font-weight="bold" fill="#000" stroke="#000" stroke-width="0.7">c</text>
<defs><linearGradient id="cbg" x1="0" y1="0" x2="1" y2="0"><stop offset="0" stop-color="#c3d0ed"/><stop offset="0.33" stop-color="#dae2f4"/><stop offset="0.58" stop-color="#edf1fa"/><stop offset="0.66" stop-color="#f9fafd"/><stop offset="0.74" stop-color="#fbedef"/><stop offset="0.86" stop-color="#fbd9da"/><stop offset="1" stop-color="#fcc6c6"/></linearGradient></defs>
<rect x="53.6" y="330.5" width="265.8" height="259.6" fill="url(#cbg)"/>
<line x1="53.6" y1="330.5" x2="53.6" y2="590.1" stroke="#444" stroke-width="1"/>
<line x1="53.1" y1="590.1" x2="319.4" y2="590.1" stroke="#555" stroke-width="1"/>
<line x1="53.6" y1="590.1" x2="53.6" y2="595" stroke="#555" stroke-width="1"/>
<text x="50.55" y="607.5" font-size="10.4" fill="#222" textLength="6.4" lengthAdjust="spacingAndGlyphs">5</text>
<line x1="96.9" y1="590.1" x2="96.9" y2="595" stroke="#555" stroke-width="1"/>
<text x="90.15" y="607.5" font-size="10.4" fill="#222" textLength="12.2" lengthAdjust="spacingAndGlyphs">10</text>
<line x1="140.3" y1="590.1" x2="140.3" y2="595" stroke="#555" stroke-width="1"/>
<text x="134.05" y="607.5" font-size="10.4" fill="#222" textLength="13.2" lengthAdjust="spacingAndGlyphs">20</text>
<line x1="197.6" y1="590.1" x2="197.6" y2="595" stroke="#555" stroke-width="1"/>
<text x="192.15" y="607.5" font-size="10.4" fill="#222" textLength="13.4" lengthAdjust="spacingAndGlyphs">50</text>
<line x1="240.9" y1="590.1" x2="240.9" y2="595" stroke="#555" stroke-width="1"/>
<text x="231.55" y="607.5" font-size="10.4" fill="#222" textLength="18.0" lengthAdjust="spacingAndGlyphs">100</text>
<line x1="284.3" y1="590.1" x2="284.3" y2="595" stroke="#555" stroke-width="1"/>
<text x="274.05" y="607.5" font-size="10.4" fill="#222" textLength="20.2" lengthAdjust="spacingAndGlyphs">200</text>
<line x1="48.2" y1="589.6" x2="53.6" y2="589.6" stroke="#555" stroke-width="1"/>
<text x="31.05" y="593.4" font-size="10.6" fill="#222" textLength="13.6" lengthAdjust="spacingAndGlyphs">20</text>
<line x1="48.2" y1="523.4" x2="53.6" y2="523.4" stroke="#555" stroke-width="1"/>
<text x="30.25" y="527.2" font-size="10.6" fill="#222" textLength="14.4" lengthAdjust="spacingAndGlyphs">40</text>
<line x1="48.2" y1="484.7" x2="53.6" y2="484.7" stroke="#555" stroke-width="1"/>
<text x="30.25" y="488.5" font-size="10.6" fill="#222" textLength="14.4" lengthAdjust="spacingAndGlyphs">60</text>
<line x1="48.2" y1="457.2" x2="53.6" y2="457.2" stroke="#555" stroke-width="1"/>
<text x="30.25" y="461.0" font-size="10.6" fill="#222" textLength="14.4" lengthAdjust="spacingAndGlyphs">80</text>
<line x1="48.2" y1="418.5" x2="53.6" y2="418.5" stroke="#555" stroke-width="1"/>
<text x="27.15" y="422.3" font-size="10.6" fill="#222" textLength="17.5" lengthAdjust="spacingAndGlyphs">120</text>
<line x1="48.2" y1="369.7" x2="53.6" y2="369.7" stroke="#555" stroke-width="1"/>
<text x="23.95" y="373.5" font-size="10.6" fill="#222" textLength="20.7" lengthAdjust="spacingAndGlyphs">200</text>
<text x="186.5" y="625.6" font-size="13" text-anchor="middle" fill="#222">Temperature (K)</text>
<text transform="translate(12.9,460.8) rotate(-90)" font-size="14" text-anchor="middle" fill="#222" textLength="176.5" lengthAdjust="spacingAndGlyphs">Electrical conductivity (S cm<tspan font-size="9.5" dy="-5.3">−1</tspan><tspan dy="5.3">)</tspan></text>
<path d="M83.0,411.3 L96.9,418.7 L110.9,424.3 L122.3,428.8 L140.3,432.5 L154.3,435.2 L165.7,438.2 L183.6,442.4 L197.6,444.6 L209.0,444.8 L218.6,445.5 L227.0,447.1 L234.4,448.8 L240.9,450.6 L252.4,455.0 L262.0,463.4 L270.3,473.2 L277.7,482.7 L284.3,491.9 L290.3,501.7 L295.7,513.1" fill="none" stroke="#5a5af5" stroke-width="1"/>
<path d="M83.0,393.3 L96.9,400.4 L110.9,405.9 L122.3,410.9 L140.3,415.5 L154.3,419.3 L165.7,423.7 L183.6,429.1 L197.6,432.4 L209.0,434.0 L218.6,436.5 L227.0,438.9 L234.4,440.7 L240.9,443.4 L252.4,449.0 L262.0,458.0 L270.3,468.1 L277.7,477.5 L284.3,486.5 L290.3,496.4 L295.7,508.2" fill="none" stroke="#7fb2e0" stroke-width="1"/>
<path d="M83.0,378.2 L96.9,385.5 L110.9,390.8 L122.3,396.1 L140.3,402.0 L154.3,407.0 L165.7,411.9 L183.6,417.8 L197.6,422.6 L209.0,425.6 L218.6,428.9 L227.0,432.3 L234.4,435.4 L240.9,439.2 L252.4,445.4 L262.0,454.4 L270.3,464.3 L277.7,473.5 L284.3,482.0 L290.3,491.2 L295.7,502.2" fill="none" stroke="#66c494" stroke-width="1"/>
<path d="M83.0,363.6 L96.9,371.1 L110.9,377.1 L122.3,382.5 L140.3,388.9 L154.3,395.1 L165.7,401.9 L183.6,409.3 L197.6,414.9 L209.0,418.8 L218.6,422.5 L227.0,426.4 L234.4,430.3 L240.9,434.5 L252.4,441.2 L262.0,450.6 L270.3,459.9 L277.7,468.2 L284.3,476.8 L290.3,485.9" fill="none" stroke="#e8a46c" stroke-width="1"/>
<path d="M83.0,350.4 L96.9,357.5 L110.9,363.8 L122.3,370.0 L140.3,376.8 L154.3,383.9 L165.7,391.9 L183.6,400.8 L197.6,407.5 L209.0,411.9 L218.6,416.4 L227.0,421.0 L234.4,425.2 L240.9,429.7 L252.4,436.7 L262.0,446.6 L270.3,456.6 L277.7,465.5 L284.3,474.4 L290.3,484.8" fill="none" stroke="#f56464" stroke-width="1"/>
<circle cx="83.0" cy="411.3" r="3.60" fill="#5a5af5"/>
<circle cx="96.9" cy="419.6" r="3.60" fill="#5a5af5"/>
<circle cx="110.9" cy="424.4" r="3.60" fill="#5a5af5"/>
<circle cx="122.3" cy="428.7" r="3.60" fill="#5a5af5"/>
<circle cx="140.3" cy="433.2" r="3.60" fill="#5a5af5"/>
<circle cx="154.3" cy="435.1" r="3.60" fill="#5a5af5"/>
<circle cx="165.7" cy="437.2" r="3.60" fill="#5a5af5"/>
<circle cx="183.6" cy="443.5" r="3.60" fill="#5a5af5"/>
<circle cx="197.6" cy="445.3" r="3.60" fill="#5a5af5"/>
<circle cx="209.0" cy="444.4" r="3.60" fill="#5a5af5"/>
<circle cx="218.6" cy="445.3" r="3.60" fill="#5a5af5"/>
<circle cx="227.0" cy="446.9" r="3.60" fill="#5a5af5"/>
<circle cx="234.4" cy="449.3" r="3.60" fill="#5a5af5"/>
<circle cx="240.9" cy="449.8" r="3.60" fill="#5a5af5"/>
<circle cx="252.4" cy="453.6" r="3.60" fill="#5a5af5"/>
<circle cx="262.0" cy="463.1" r="3.60" fill="#5a5af5"/>
<circle cx="270.3" cy="473.6" r="3.60" fill="#5a5af5"/>
<circle cx="277.7" cy="482.5" r="3.60" fill="#5a5af5"/>
<circle cx="284.3" cy="492.1" r="3.60" fill="#5a5af5"/>
<circle cx="290.3" cy="500.8" r="3.60" fill="#5a5af5"/>
<circle cx="295.7" cy="513.1" r="3.60" fill="#5a5af5"/>
<rect x="79.6" y="389.9" width="6.80" height="6.80" fill="#7fb2e0"/>
<rect x="93.5" y="397.9" width="6.80" height="6.80" fill="#7fb2e0"/>
<rect x="107.5" y="402.2" width="6.80" height="6.80" fill="#7fb2e0"/>
<rect x="118.9" y="407.5" width="6.80" height="6.80" fill="#7fb2e0"/>
<rect x="136.9" y="412.7" width="6.80" height="6.80" fill="#7fb2e0"/>
<rect x="150.9" y="415.7" width="6.80" height="6.80" fill="#7fb2e0"/>
<rect x="162.3" y="419.4" width="6.80" height="6.80" fill="#7fb2e0"/>
<rect x="180.2" y="426.8" width="6.80" height="6.80" fill="#7fb2e0"/>
<rect x="194.2" y="429.7" width="6.80" height="6.80" fill="#7fb2e0"/>
<rect x="205.6" y="429.7" width="6.80" height="6.80" fill="#7fb2e0"/>
<rect x="215.2" y="433.4" width="6.80" height="6.80" fill="#7fb2e0"/>
<rect x="223.6" y="435.7" width="6.80" height="6.80" fill="#7fb2e0"/>
<rect x="231.0" y="437.2" width="6.80" height="6.80" fill="#7fb2e0"/>
<rect x="237.5" y="439.0" width="6.80" height="6.80" fill="#7fb2e0"/>
<rect x="249.0" y="444.6" width="6.80" height="6.80" fill="#7fb2e0"/>
<rect x="258.6" y="454.2" width="6.80" height="6.80" fill="#7fb2e0"/>
<rect x="266.9" y="465.3" width="6.80" height="6.80" fill="#7fb2e0"/>
<rect x="274.3" y="474.0" width="6.80" height="6.80" fill="#7fb2e0"/>
<rect x="280.9" y="483.2" width="6.80" height="6.80" fill="#7fb2e0"/>
<rect x="286.9" y="492.1" width="6.80" height="6.80" fill="#7fb2e0"/>
<rect x="292.3" y="504.8" width="6.80" height="6.80" fill="#7fb2e0"/>
<polygon points="83.0,373.8 87.6,381.8 78.4,381.8" fill="#66c494" />
<polygon points="96.9,382.1 101.5,390.1 92.3,390.1" fill="#66c494" />
<polygon points="110.9,386.2 115.5,394.2 106.3,394.2" fill="#66c494" />
<polygon points="122.3,391.0 126.9,399.0 117.7,399.0" fill="#66c494" />
<polygon points="140.3,398.5 144.9,406.5 135.7,406.5" fill="#66c494" />
<polygon points="154.3,402.5 158.9,410.5 149.7,410.5" fill="#66c494" />
<polygon points="165.7,406.8 170.3,414.8 161.1,414.8" fill="#66c494" />
<polygon points="183.6,413.9 188.2,421.9 179.0,421.9" fill="#66c494" />
<polygon points="197.6,419.1 202.2,427.1 193.0,427.1" fill="#66c494" />
<polygon points="209.0,420.6 213.6,428.6 204.4,428.6" fill="#66c494" />
<polygon points="218.6,424.6 223.2,432.6 214.0,432.6" fill="#66c494" />
<polygon points="227.0,428.0 231.6,436.0 222.4,436.0" fill="#66c494" />
<polygon points="234.4,430.9 239.0,438.9 229.8,438.9" fill="#66c494" />
<polygon points="240.9,434.0 245.5,442.0 236.3,442.0" fill="#66c494" />
<polygon points="252.4,440.2 257.0,448.2 247.8,448.2" fill="#66c494" />
<polygon points="262.0,449.8 266.6,457.8 257.4,457.8" fill="#66c494" />
<polygon points="270.3,460.3 274.9,468.3 265.7,468.3" fill="#66c494" />
<polygon points="277.7,469.2 282.3,477.2 273.1,477.2" fill="#66c494" />
<polygon points="284.3,477.7 288.9,485.7 279.7,485.7" fill="#66c494" />
<polygon points="290.3,485.9 294.9,493.9 285.7,493.9" fill="#66c494" />
<polygon points="295.7,497.8 300.3,505.8 291.1,505.8" fill="#66c494" />
<polygon points="83.0,368.0 87.6,360.0 78.4,360.0" fill="#e8a46c" />
<polygon points="96.9,376.2 101.5,368.2 92.3,368.2" fill="#e8a46c" />
<polygon points="110.9,381.8 115.5,373.8 106.3,373.8" fill="#e8a46c" />
<polygon points="122.3,386.1 126.9,378.1 117.7,378.1" fill="#e8a46c" />
<polygon points="140.3,393.8 144.9,385.8 135.7,385.8" fill="#e8a46c" />
<polygon points="154.3,399.3 158.9,391.3 149.7,391.3" fill="#e8a46c" />
<polygon points="165.7,405.6 170.3,397.6 161.1,397.6" fill="#e8a46c" />
<polygon points="183.6,414.5 188.2,406.5 179.0,406.5" fill="#e8a46c" />
<polygon points="197.6,420.1 202.2,412.1 193.0,412.1" fill="#e8a46c" />
<polygon points="209.0,422.7 213.6,414.7 204.4,414.7" fill="#e8a46c" />
<polygon points="218.6,427.2 223.2,419.2 214.0,419.2" fill="#e8a46c" />
<polygon points="227.0,430.5 231.6,422.5 222.4,422.5" fill="#e8a46c" />
<polygon points="234.4,435.2 239.0,427.2 229.8,427.2" fill="#e8a46c" />
<polygon points="240.9,437.9 245.5,429.9 236.3,429.9" fill="#e8a46c" />
<polygon points="252.4,444.6 257.0,436.6 247.8,436.6" fill="#e8a46c" />
<polygon points="262.0,455.3 266.6,447.3 257.4,447.3" fill="#e8a46c" />
<polygon points="270.3,464.6 274.9,456.6 265.7,456.6" fill="#e8a46c" />
<polygon points="277.7,472.5 282.3,464.5 273.1,464.5" fill="#e8a46c" />
<polygon points="284.3,480.9 288.9,472.9 279.7,472.9" fill="#e8a46c" />
<polygon points="290.3,490.3 294.9,482.3 285.7,482.3" fill="#e8a46c" />
<polygon points="78.6,350.4 86.6,345.8 86.6,355.0" fill="#f56464" />
<polygon points="92.5,357.8 100.5,353.2 100.5,362.4" fill="#f56464" />
<polygon points="106.5,363.9 114.5,359.3 114.5,368.5" fill="#f56464" />
<polygon points="117.9,369.5 125.9,364.9 125.9,374.1" fill="#f56464" />
<polygon points="135.9,376.9 143.9,372.3 143.9,381.5" fill="#f56464" />
<polygon points="149.9,383.8 157.9,379.2 157.9,388.4" fill="#f56464" />
<polygon points="161.3,391.1 169.3,386.5 169.3,395.7" fill="#f56464" />
<polygon points="179.2,401.8 187.2,397.2 187.2,406.4" fill="#f56464" />
<polygon points="193.2,408.5 201.2,403.9 201.2,413.1" fill="#f56464" />
<polygon points="204.6,411.2 212.6,406.6 212.6,415.8" fill="#f56464" />
<polygon points="214.2,416.8 222.2,412.2 222.2,421.4" fill="#f56464" />
<polygon points="222.6,420.8 230.6,416.2 230.6,425.4" fill="#f56464" />
<polygon points="230.0,425.7 238.0,421.1 238.0,430.3" fill="#f56464" />
<polygon points="236.5,428.6 244.5,424.0 244.5,433.2" fill="#f56464" />
<polygon points="248.0,435.7 256.0,431.1 256.0,440.3" fill="#f56464" />
<polygon points="257.6,446.9 265.6,442.3 265.6,451.5" fill="#f56464" />
<polygon points="265.9,456.9 273.9,452.3 273.9,461.5" fill="#f56464" />
<polygon points="273.3,465.8 281.3,461.2 281.3,470.4" fill="#f56464" />
<polygon points="279.9,473.6 287.9,469.0 287.9,478.2" fill="#f56464" />
<polygon points="285.9,484.8 293.9,480.2 293.9,489.4" fill="#f56464" />
<text x="69.5" y="483.7" font-size="10.5" fill="#222"><tspan font-style="italic">n</tspan><tspan font-size="7" dy="3.5">c</tspan></text><text x="81.5" y="483.7" font-size="10.5" fill="#222" textLength="55" lengthAdjust="spacingAndGlyphs">(×10<tspan font-size="7" dy="-4">12</tspan><tspan dy="4"> cm</tspan><tspan font-size="7" dy="-4">−2</tspan><tspan dy="4">)</tspan></text>
<circle cx="86.0" cy="493.7" r="3.96" fill="#5a5af5"/>
<text x="96.5" y="497.7" font-size="11" fill="#222">4.0</text>
<rect x="82.3" y="506.4" width="7.48" height="7.48" fill="#7fb2e0"/>
<text x="96.5" y="514.1" font-size="11" fill="#222">4.5</text>
<polygon points="86.0,521.7 91.1,530.5 80.9,530.5" fill="#66c494" />
<text x="96.5" y="530.5" font-size="11" fill="#222">5.0</text>
<polygon points="86.0,547.7 91.1,538.9 80.9,538.9" fill="#e8a46c" />
<text x="96.5" y="546.9" font-size="11" fill="#222">5.5</text>
<polygon points="81.2,559.3 90.0,554.2 90.0,564.4" fill="#f56464" />
<text x="96.5" y="563.3" font-size="11" fill="#222">6.0</text>
<text x="365.1" y="335.2" font-size="18.6" font-weight="bold" fill="#000" stroke="#000" stroke-width="0.7">d</text>
<defs><linearGradient id="dbg" x1="0" y1="0" x2="0" y2="1"><stop offset="0" stop-color="#fcc4c7"/><stop offset="0.11" stop-color="#fddee0"/><stop offset="0.2" stop-color="#fef1f2"/><stop offset="0.3" stop-color="#fefcfc"/><stop offset="0.5" stop-color="#f6f7fc"/><stop offset="0.75" stop-color="#e2e8f6"/><stop offset="1" stop-color="#c6d3ee"/></linearGradient><linearGradient id="bar" x1="0" y1="0" x2="0" y2="1"><stop offset="0" stop-color="#eae81a"/><stop offset="0.256" stop-color="#22b02a"/><stop offset="0.47" stop-color="#1f5f6c"/><stop offset="0.69" stop-color="#1d2c8c"/><stop offset="1" stop-color="#19199c"/></linearGradient><linearGradient id="bar2" x1="0" y1="0" x2="0" y2="1"><stop offset="0" stop-color="#eae81a"/><stop offset="0.386" stop-color="#22b02a"/><stop offset="0.64" stop-color="#1f5f6c"/><stop offset="0.87" stop-color="#1d2c8c"/><stop offset="1" stop-color="#19199c"/></linearGradient><radialGradient id="ow" cx="0.42" cy="0.35" r="0.62"><stop offset="0" stop-color="#ffe4e4"/><stop offset="0.3" stop-color="#f52525"/><stop offset="1" stop-color="#e01212"/></radialGradient></defs>
<rect x="421" y="330.1" width="264" height="258" fill="url(#dbg)"/>
<line x1="420.9" y1="334" x2="420.9" y2="585" stroke="#222" stroke-width="1.1"/>
<polygon points="418.4,337.5 423.4,337.5 420.9,331.5" fill="#222" />
<polygon points="418.4,582.5 423.4,582.5 420.9,588.3" fill="#222" />
<line x1="415.3" y1="349.1" x2="420.9" y2="349.1" stroke="#222" stroke-width="1"/>
<text x="405.7" y="352.9" font-size="10.3" text-anchor="end" fill="#222">10</text>
<text x="406" y="346.8" font-size="7" fill="#222">6</text>
<line x1="415.3" y1="385.9" x2="420.9" y2="385.9" stroke="#222" stroke-width="1"/>
<text x="405.7" y="389.7" font-size="10.3" text-anchor="end" fill="#222">10</text>
<text x="406" y="383.6" font-size="7" fill="#222">4</text>
<line x1="415.3" y1="422.8" x2="420.9" y2="422.8" stroke="#222" stroke-width="1"/>
<text x="405.7" y="426.6" font-size="10.3" text-anchor="end" fill="#222">10</text>
<text x="406" y="420.5" font-size="7" fill="#222">2</text>
<line x1="415.3" y1="459.6" x2="420.9" y2="459.6" stroke="#222" stroke-width="1"/>
<text x="405.7" y="463.4" font-size="10.3" text-anchor="end" fill="#222">10</text>
<text x="406" y="457.3" font-size="7" fill="#222">0</text>
<line x1="415.3" y1="496.4" x2="420.9" y2="496.4" stroke="#222" stroke-width="1"/>
<text x="405.7" y="500.2" font-size="10.3" text-anchor="end" fill="#222">10</text>
<text x="406" y="494.1" font-size="7" fill="#222">−2</text>
<line x1="415.3" y1="533.3" x2="420.9" y2="533.3" stroke="#222" stroke-width="1"/>
<text x="405.7" y="537.1" font-size="10.3" text-anchor="end" fill="#222">10</text>
<text x="406" y="531.0" font-size="7" fill="#222">−4</text>
<line x1="415.3" y1="570.1" x2="420.9" y2="570.1" stroke="#222" stroke-width="1"/>
<text x="405.7" y="573.9" font-size="10.3" text-anchor="end" fill="#222">10</text>
<text x="406" y="567.8" font-size="7" fill="#222">−6</text>
<text transform="translate(382.9,459.5) rotate(-90)" font-size="13.2" text-anchor="middle" fill="#222">Electrical conductivity (S cm<tspan font-size="9" dy="-5">−1</tspan><tspan dy="5">)</tspan></text>
<rect x="460.2" y="398.2" width="8.1" height="181.3" fill="url(#bar)"/>
<rect x="518" y="394.9" width="7.6" height="142.2" fill="url(#bar2)"/>
<text x="471.8" y="568.6" font-size="10.5" fill="#222">GaAs</text>
<text x="530.1" y="487.6" font-size="10.5" fill="#222">Si</text>
<circle cx="521.8" cy="352.8" r="4.3" fill="#f5821f"/>
<text x="531.3" y="356.4" font-size="10.5" fill="#222">Au</text>
<circle cx="521.8" cy="365.8" r="4.3" fill="#f9a51f"/>
<text x="531.3" y="369.4" font-size="10.5" fill="#222">Pt</text>
<circle cx="521.8" cy="383.0" r="4.3" fill="#fdc923"/>
<text x="531.3" y="386.6" font-size="10.5" fill="#222">Bi</text>
<circle cx="580.1" cy="404.3" r="3.6" fill="none" stroke="#e0e030" stroke-width="1.3"/>
<circle cx="580.1" cy="414.8" r="4.5" fill="url(#ow)"/>
<circle cx="580.1" cy="428.3" r="3.6" fill="none" stroke="#8ed030" stroke-width="1.3"/>
<circle cx="580.1" cy="447.1" r="3.6" fill="none" stroke="#2aac2a" stroke-width="1.9"/>
<text x="595.5" y="407.6" font-size="10.5" fill="#222">MoS<tspan font-size="7" dy="2.5">2</tspan></text>
<text x="595.5" y="418.5" font-size="10.5" fill="#f21c1c" textLength="44.5" lengthAdjust="spacingAndGlyphs">Our work</text>
<text x="595.5" y="431.6" font-size="10.5" fill="#222">C<tspan font-size="7" dy="2.5">8</tspan><tspan dy="-2.5">-BTBT</tspan></text>
<text x="595.5" y="445.9" font-size="10.5" fill="#222" textLength="51.3" lengthAdjust="spacingAndGlyphs">Pentacene</text>
<text x="595.5" y="458.8" font-size="10.5" fill="#222" textLength="76.5" lengthAdjust="spacingAndGlyphs">TIPS-pentacene</text>
<line x1="592.7" y1="442" x2="587.5" y2="444.2" stroke="#111" stroke-width="1"/>
<polygon points="585.6,445.0 589.5,441.5 590.3,445.6" fill="#111" />
<line x1="592.7" y1="455.1" x2="588" y2="451.2" stroke="#111" stroke-width="1"/>
<polygon points="586.0,450.0 590.4,450.6 587.5,454.0" fill="#111" />
</svg>
</body></html>
